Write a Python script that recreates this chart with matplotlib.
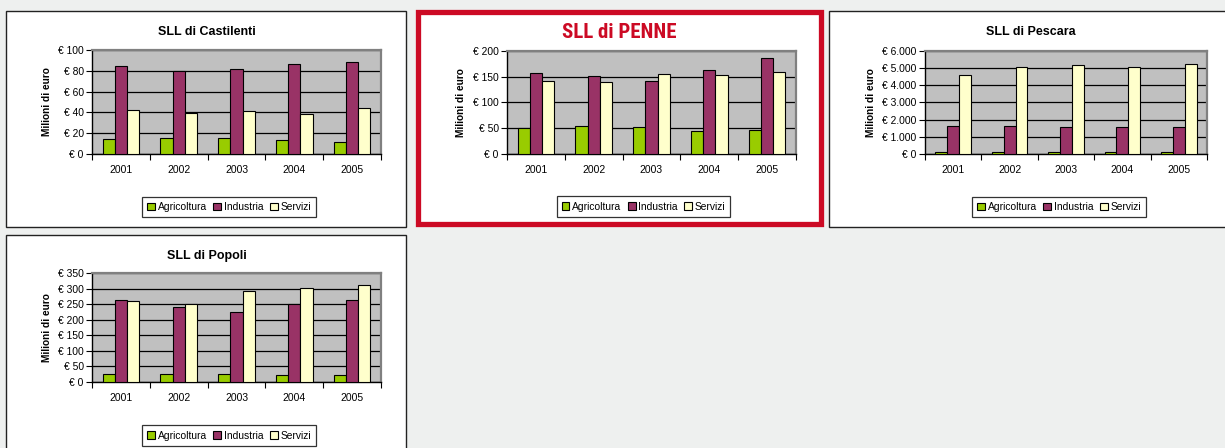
import matplotlib.pyplot as plt
from matplotlib.patches import Rectangle, Patch
from matplotlib import font_manager
import numpy as np

plt.rcParams['font.family'] = ['Liberation Sans', 'DejaVu Sans']

W, H = 1225, 448

anni = ['2001', '2002', '2003', '2004', '2005']
settori = ['Agricoltura', 'Industria', 'Servizi']
colori = ['#99cc00', '#993366', '#ffffcc']

# valori in milioni di euro
castilenti_agr = [14, 15, 15, 13, 12]
castilenti_ind = [85, 80, 82, 87, 88.5]
castilenti_ser = [42, 39.5, 41, 38, 44]
castilenti_ticks = [0, 20, 40, 60, 80, 100]
castilenti_labels = ['€ 0', '€ 20', '€ 40', '€ 60', '€ 80', '€ 100']

penne_agr = [50.5, 55, 52, 45.5, 47]
penne_ind = [158, 150.5, 142, 164, 186.5]
penne_ser = [142, 139, 155.5, 154, 160]
penne_ticks = [0, 50, 100, 150, 200]
penne_labels = ['€ 0', '€ 50', '€ 100', '€ 150', '€ 200']

pescara_agr = [110, 105, 105, 100, 100]
pescara_ind = [1620, 1620, 1600, 1560, 1560]
pescara_ser = [4630, 5090, 5210, 5090, 5270]
pescara_ticks = [0, 1000, 2000, 3000, 4000, 5000, 6000]
pescara_labels = ['€ 0', '€ 1.000', '€ 2.000', '€ 3.000', '€ 4.000', '€ 5.000', '€ 6.000']

popoli_agr = [25.5, 25.5, 25.5, 21.5, 22.5]
popoli_ind = [263, 242, 226, 249.5, 263]
popoli_ser = [261, 250.5, 291, 301, 310]
popoli_ticks = [0, 50, 100, 150, 200, 250, 300, 350]
popoli_labels = ['€ 0', '€ 50', '€ 100', '€ 150', '€ 200', '€ 250', '€ 300', '€ 350']

# font stretto per il titolo rosso (come Arial Narrow), se c'è
nomi_font = {f.name for f in font_manager.fontManager.ttflist}
font_stretto, size_stretto = 'Liberation Sans', 12.5
for nome in ['Liberation Sans Narrow', 'Arial Narrow', 'Roboto Condensed', 'Archivo Narrow']:
    if nome in nomi_font:
        font_stretto, size_stretto = nome, 15
        break


def fx(x):
    return x / W


def fy(y):
    return 1 - y / H


def cornice(x0, y0, x1, y1, colore='#222222', lw=1.0):
    fig.add_artist(Rectangle((fx(x0), fy(y1)), fx(x1) - fx(x0), fy(y0) - fy(y1),
                             transform=fig.transFigure, facecolor='white',
                             edgecolor=colore, linewidth=lw, zorder=0))


def grafico(box, titolo, serie, ticks, labels, tpos, ylx, legpos, titolo_rosso=False):
    x0, y0, x1, y1 = box
    ax = fig.add_axes([fx(x0), fy(y1), fx(x1) - fx(x0), fy(y0) - fy(y1)])
    ax.set_facecolor('#c0c0c0')
    pos = np.arange(len(anni)) + 0.5
    w = 0.21
    for i, vals in enumerate(serie):
        ax.bar(pos + (i - 1) * w, vals, width=w, color=colori[i],
               edgecolor='black', linewidth=0.8, zorder=3)
    ax.set_xlim(0, len(anni))
    ax.set_ylim(ticks[0], ticks[-1])
    ax.set_yticks(ticks)
    ax.set_yticklabels(labels, fontsize=7.4)
    ax.yaxis.grid(True, color='black', linewidth=0.9, zorder=1)
    ax.set_axisbelow(True)
    ax.set_xticks(np.arange(len(anni) + 1))
    ax.set_xticklabels([])
    ax.set_xticks(pos, minor=True)
    ax.set_xticklabels(anni, minor=True, fontsize=7.5)
    ax.tick_params(axis='x', which='major', length=4, direction='out', color='black')
    ax.tick_params(axis='x', which='minor', length=0, pad=8)
    ax.tick_params(axis='y', length=4, direction='out', pad=2, color='black')
    for s in ['top', 'right']:
        ax.spines[s].set_color('#808080')
        ax.spines[s].set_linewidth(1.6)
    for s in ['left', 'bottom']:
        ax.spines[s].set_color('black')
        ax.spines[s].set_linewidth(1.0)
    if titolo_rosso:
        fig.text(fx(tpos[0]), fy(tpos[1]), titolo, ha='center', va='center',
                 fontsize=size_stretto, fontweight='bold', color='#cc0a24',
                 family=[font_stretto, 'DejaVu Sans'])
    else:
        fig.text(fx(tpos[0]), fy(tpos[1]), titolo, ha='center', va='center',
                 fontsize=9, fontweight='bold')
    fig.text(fx(ylx), fy((y0 + y1) / 2), 'Milioni di euro', rotation=90,
             ha='center', va='center', fontsize=7.3, fontweight='bold')
    handles = [Patch(facecolor=c, edgecolor='black', linewidth=0.8) for c in colori]
    leg = fig.legend(handles, settori, loc='center',
                     bbox_to_anchor=(fx(legpos[0]), fy(legpos[1])),
                     ncol=3, fontsize=7.4, frameon=True, fancybox=False,
                     handlelength=0.75, handleheight=0.75, handletextpad=0.25,
                     columnspacing=0.65, borderpad=0.5)
    leg.get_frame().set_edgecolor('black')
    leg.get_frame().set_linewidth(0.9)
    return ax


fig = plt.figure(figsize=(W / 100, H / 100), dpi=100)
fig.patch.set_facecolor('#eef0ef')

# cornici dei pannelli
cornice(6, 11, 406, 227)
cornice(829, 11, 1240, 227)
cornice(6, 235, 406, 470)
fig.add_artist(Rectangle((fx(417.5), fy(224.5)), fx(820.5) - fx(417.5), fy(12.5) - fy(224.5),
                         transform=fig.transFigure, facecolor='white',
                         edgecolor='#cc0a24', linewidth=3.8, zorder=0))

grafico((92, 50, 381, 154), 'SLL di Castilenti',
        [castilenti_agr, castilenti_ind, castilenti_ser],
        castilenti_ticks, castilenti_labels, (207, 32), 47, (229, 207))
grafico((507, 51, 796, 154), 'SLL di PENNE',
        [penne_agr, penne_ind, penne_ser],
        penne_ticks, penne_labels, (619, 33), 461, (643.5, 206.5), titolo_rosso=True)
grafico((925, 51, 1207, 154), 'SLL di Pescara',
        [pescara_agr, pescara_ind, pescara_ser],
        pescara_ticks, pescara_labels, (1031, 32), 871, (1059, 207))
grafico((92, 273, 381, 382), 'SLL di Popoli',
        [popoli_agr, popoli_ind, popoli_ser],
        popoli_ticks, popoli_labels, (207, 256), 47, (229, 435.5))

fig.savefig('out.png', dpi=100, facecolor=fig.get_facecolor())
